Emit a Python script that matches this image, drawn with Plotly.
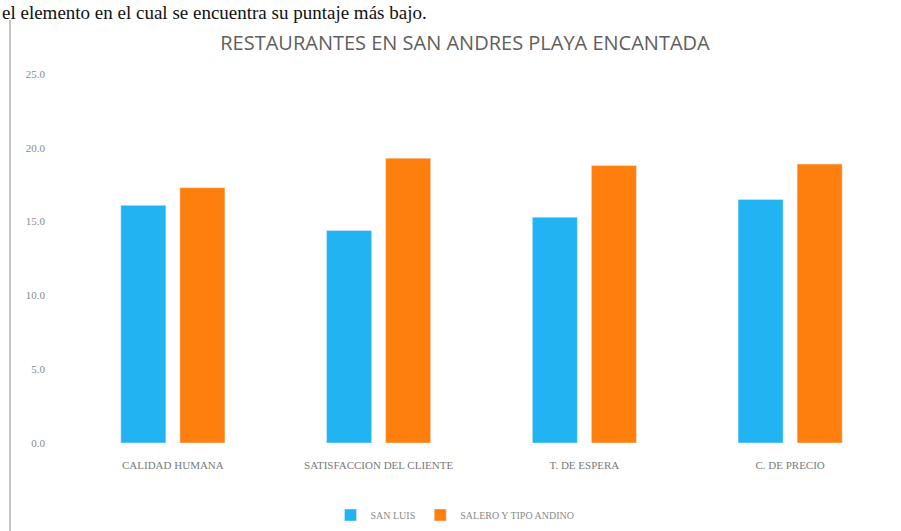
import plotly.graph_objects as go

# Scores per criterion for the two restaurants
categorias = ["CALIDAD HUMANA", "SATISFACCION DEL CLIENTE", "T. DE ESPERA", "C. DE PRECIO"]
serie_1 = "SAN LUIS"
serie_2 = "SALERO Y TIPO ANDINO"
valores_1 = [16.1, 14.4, 15.3, 16.5]
valores_2 = [17.3, 19.3, 18.8, 18.9]
ticks_y = [0, 5, 10, 15, 20, 25]

W, H = 901, 531
ML, MR, MT, MB = 70, 8, 74, 88
plot_w = W - ML - MR
plot_h = H - MT - MB


def px_x(px):
    return (px - ML) / plot_w


def px_y(py):
    return (H - MB - py) / plot_h


fig = go.Figure()
fig.add_trace(go.Bar(x=categorias, y=valores_1, name=serie_1, marker_color="#22B4F2"))
fig.add_trace(go.Bar(x=categorias, y=valores_2, name=serie_2, marker_color="#FF7F0E"))

fig.update_layout(
    width=W,
    height=H,
    margin=dict(l=ML, r=MR, t=MT, b=MB, autoexpand=False),
    paper_bgcolor="white",
    plot_bgcolor="white",
    barmode="group",
    bargap=0.426,
    bargroupgap=0.237,
    title=dict(
        text="RESTAURANTES EN SAN ANDRES PLAYA ENCANTADA",
        x=465 / W,
        xanchor="center",
        y=1 - 43 / H,
        yanchor="middle",
        font=dict(family="Liberation Sans Narrow, Open Sans, sans-serif", size=20, color="#606060"),
    ),
    xaxis=dict(
        showline=False,
        showgrid=False,
        ticks="",
        automargin=False,
        ticklabelstandoff=14,
        tickfont=dict(family="Liberation Serif, serif", size=11, color="#7a7a7a"),
    ),
    yaxis=dict(
        range=[0, 25],
        tickvals=ticks_y,
        tickformat=".1f",
        showgrid=False,
        zeroline=False,
        showline=False,
        ticks="",
        automargin=False,
        ticklabelstandoff=24,
        tickfont=dict(family="Liberation Serif, serif", size=11, color="#8a8a8a"),
    ),
    legend=dict(
        orientation="h",
        x=px_x(455),
        xanchor="center",
        y=px_y(515),
        yanchor="middle",
        font=dict(family="Liberation Serif, serif", size=10, color="#8a8a8a"),
        itemwidth=30,
    ),
    showlegend=True,
)

# Document text line above the chart and the page's left border
fig.add_annotation(
    text="el elemento en el cual se encuentra su puntaje más bajo.",
    xref="paper", yref="paper",
    x=px_x(0), y=px_y(0),
    xanchor="left", yanchor="top",
    showarrow=False,
    font=dict(family="Liberation Serif, Times New Roman, serif", size=19, color="#111111"),
)
fig.add_shape(
    type="line", xref="paper", yref="paper",
    x0=px_x(10), x1=px_x(10), y0=px_y(20), y1=px_y(531),
    line=dict(color="#c4c4c4", width=2),
)

fig.write_html("out.html")
